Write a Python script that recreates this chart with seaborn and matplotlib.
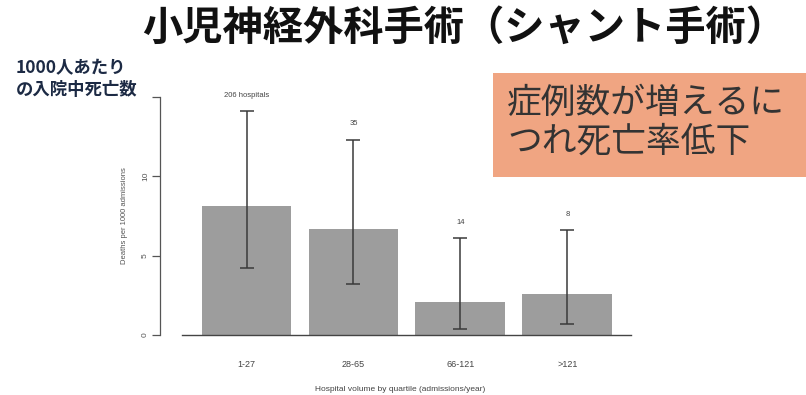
import matplotlib
matplotlib.use("Agg")
import matplotlib.pyplot as plt
import pandas as pd
import seaborn as sns

# values
quartiles = ["1-27", "28-65", "66-121", ">121"]
deaths = [8.1, 6.7, 2.1, 2.6]
ci_low = [4.2, 3.2, 0.4, 0.7]
ci_high = [14.1, 12.3, 6.1, 6.6]
counts = ["206 hospitals", "35", "14", "8"]

sns.set_theme(style="white")
plt.rcParams["font.family"] = ["Noto Sans CJK JP", "DejaVu Sans"]

df = pd.DataFrame({"quartile": quartiles, "deaths": deaths})

fig = plt.figure(figsize=(8.06, 3.95), dpi=100)
ax = fig.add_axes([0.1985, 0.152, 0.5955, 0.6025])

sns.barplot(data=df, x="quartile", y="deaths", color="#9d9d9d", saturation=1,
            width=0.84, ax=ax)
for p in ax.patches:
    p.set_edgecolor("none")

xs = list(range(len(quartiles)))
yerr = [[d - lo for d, lo in zip(deaths, ci_low)],
        [hi - d for d, hi in zip(deaths, ci_high)]]
ax.errorbar(xs, deaths, yerr=yerr, fmt="none", ecolor="#3a3a3a",
            elinewidth=1.1, capsize=5, capthick=1.1, clip_on=False)

for x, hi, lab in zip(xs, ci_high, counts):
    ax.annotate(lab, (x, hi), xytext=(0, 9), textcoords="offset points",
                ha="center", va="bottom", fontsize=5.5, color="#444444",
                family=["Liberation Sans", "DejaVu Sans"])

ax.set_ylim(0, 15)
ax.set_xlim(-0.81, 3.68)
ax.set_yticks([0, 5, 10, 15])
ax.set_yticklabels(["0", "5", "10", ""])
ax.tick_params(axis="y", left=True, length=6, width=0.9, color="#555555", pad=2)
ax.tick_params(axis="x", bottom=False, pad=12)
for lbl in ax.get_yticklabels():
    lbl.set_rotation(90)
    lbl.set_va("center")
    lbl.set_fontsize(6)
    lbl.set_color("#555555")
    lbl.set_family(["Liberation Sans"])
for lbl in ax.get_xticklabels():
    lbl.set_fontsize(6.5)
    lbl.set_color("#444444")
    lbl.set_family(["Liberation Sans"])

sns.despine(ax=ax)
ax.spines["left"].set_bounds(0, 15)
ax.spines["left"].set_color("#555555")
ax.spines["left"].set_linewidth(0.9)
ax.spines["bottom"].set_bounds(-0.6, 3.6)
ax.spines["bottom"].set_color("#444444")
ax.spines["bottom"].set_linewidth(1.0)

ax.set_ylabel("Deaths per 1000 admissions", fontsize=5.5, color="#555555",
              family=["Liberation Sans"], labelpad=10)
ax.set_xlabel("Hospital volume by quartile (admissions/year)", fontsize=6,
              color="#444444", family=["Liberation Sans"], labelpad=12)

fig.text(0.576, 0.929, "小児神経外科手術（シャント手術）", ha="center", va="center",
         fontsize=29, fontweight="bold", color="#111111")
fig.text(0.02, 0.80, "1000人あたり\nの入院中死亡数", ha="left", va="center",
         fontsize=12.5, fontweight="bold", color="#1c2a44", linespacing=1.25)

box = plt.Rectangle((493 / 806, 1 - 177 / 395), 313 / 806, 104 / 395,
                    transform=fig.transFigure, facecolor="#f0a582",
                    edgecolor="none", zorder=0)
fig.patches.append(box)
fig.text(507 / 806, 1 - 123 / 395, "症例数が増えるに\nつれ死亡率低下", ha="left",
         va="center", fontsize=25, color="#333333", linespacing=1.15)

fig.savefig("out.png", dpi=100)
